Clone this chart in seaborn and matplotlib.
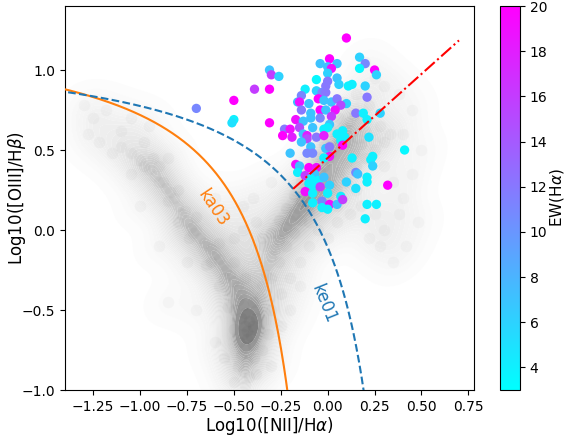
import numpy as np
import matplotlib
matplotlib.use("Agg")
import matplotlib.pyplot as plt
from matplotlib.colors import LinearSegmentedColormap
import seaborn as sns

# coloured sources: log([NII]/Ha), log([OIII]/Hb), EW(Ha)
nii = [0.10, -0.31, -0.30, -0.26, -0.39, -0.31, -0.31, 0.01, -0.04, 0.00,
       0.05, 0.02, 0.17, 0.20, 0.17, 0.25, 0.26, 0.00, -0.06, 0.00,
       0.05, 0.06, 0.11, 0.13, 0.20, -0.01, -0.06, -0.03, -0.01, -0.12,
       -0.14, -0.05, -0.02, 0.02, 0.05, 0.10, 0.07, 0.21, -0.16, -0.15,
       -0.10, -0.14, -0.09, -0.04, -0.01, 0.04, -0.04, 0.02, 0.01, 0.15,
       0.19, 0.21, 0.28, -0.17, -0.13, -0.09, -0.15, -0.08, -0.23, -0.20,
       -0.24, -0.19, -0.13, -0.11, -0.06, -0.02, 0.00, -0.02, -0.11, -0.14,
       0.05, 0.08, 0.09, 0.22, -0.09, -0.11, -0.08, -0.20, -0.01, 0.01,
       0.01, 0.07, 0.08, -0.02, 0.24, 0.23, 0.24, 0.41, 0.13, -0.17,
       -0.15, -0.10, -0.06, -0.07, -0.16, -0.12, -0.09, -0.05, -0.02, 0.15,
       0.16, 0.21, 0.21, 0.10, 0.15, 0.32, -0.10, -0.08, -0.04, 0.01,
       -0.12, -0.08, 0.00, 0.07, -0.08, -0.03, 0.01, 0.05, 0.08, -0.03,
       0.00, 0.21, 0.26, 0.20, -0.70, -0.50, -0.50, -0.51]
oiii = [1.20, 1.00, 0.97, 0.96, 0.88, 0.88, 0.67, 1.07, 1.04, 1.02,
        1.04, 1.01, 1.08, 1.04, 1.01, 1.00, 0.97, 0.98, 0.94, 0.93,
        0.95, 0.91, 0.90, 0.91, 0.90, 0.90, 0.87, 0.86, 0.86, 0.88,
        0.84, 0.82, 0.81, 0.80, 0.82, 0.79, 0.78, 0.83, 0.80, 0.80,
        0.79, 0.75, 0.73, 0.75, 0.75, 0.75, 0.70, 0.71, 0.66, 0.73,
        0.73, 0.69, 0.73, 0.69, 0.68, 0.70, 0.64, 0.64, 0.63, 0.63,
        0.59, 0.58, 0.60, 0.59, 0.58, 0.63, 0.64, 0.59, 0.57, 0.55,
        0.60, 0.62, 0.58, 0.58, 0.52, 0.48, 0.48, 0.48, 0.51, 0.52,
        0.46, 0.56, 0.53, 0.45, 0.46, 0.44, 0.40, 0.50, 0.45, 0.41,
        0.40, 0.39, 0.39, 0.35, 0.36, 0.34, 0.32, 0.31, 0.33, 0.36,
        0.35, 0.33, 0.30, 0.30, 0.26, 0.28, 0.29, 0.28, 0.27, 0.28,
        0.24, 0.23, 0.23, 0.21, 0.17, 0.18, 0.16, 0.16, 0.19, 0.14,
        0.13, 0.16, 0.16, 0.07, 0.76, 0.81, 0.69, 0.67]
ew = [20, 7, 16, 6, 16, 20, 20, 20, 7, 7,
      7, 19, 6, 11, 3.5, 20, 6, 6, 3.5, 12,
      7, 6, 4, 4, 6, 12, 6, 11, 12, 4,
      11, 20, 7, 7, 12, 6, 15, 12, 7, 19,
      7, 12, 7, 20, 7, 19, 11, 16, 7, 12,
      4, 4, 6, 19, 7, 7, 15, 7, 12, 19,
      20, 18, 7, 18, 12, 4, 4, 18, 15, 7,
      4, 4, 4, 5, 7, 11, 11, 7, 7, 12,
      19, 4, 20, 4, 4, 4, 6, 3.5, 4, 19,
      7, 20, 19, 7, 4, 16, 4, 4, 7, 11,
      7, 4, 4, 6, 5, 20, 4, 4, 16, 6,
      19, 4, 4, 4, 4, 11, 19, 7, 16, 4,
      4, 4, 4, 4, 11, 20, 4, 5]

# background galaxy cloud
gray_x = [-1.30, -1.25, -1.18, -1.10, -1.22, -1.05, -0.95, -1.15, -1.28, -0.98,
          -0.90, -1.05, -0.85, -0.80, -1.00, -0.90, -0.70, -0.85, -0.60, -0.75,
          -1.10, -1.05, -1.00, -0.98, -0.95, -0.92, -0.90, -0.88, -0.86, -0.84,
          -0.82, -0.85, -0.80, -0.78, -0.76, -0.75, -0.73, -0.72, -0.70, -0.68,
          -0.66, -0.64, -0.62, -0.60, -0.58, -0.62, -0.56, -0.54, -0.52, -0.55,
          -0.50, -0.48, -0.52, -0.46, -0.48, -0.45, -0.50, -0.44, -0.46, -0.42,
          -0.44, -0.40, -0.43, -0.45, -0.41, -0.43, -0.47, -0.44, -0.40, -0.46,
          -0.43, -0.45, -0.42, -0.44,
          -0.93, -0.80, -0.70, -0.74, -0.58, -0.65, -0.50, -0.58, -0.44, -0.53,
          -0.40, -0.50, -0.38, -0.48, -0.39,
          -0.40, -0.38, -0.36, -0.35, -0.33, -0.32, -0.30, -0.28, -0.26, -0.24,
          -0.22, -0.20, -0.18, -0.16, -0.14, -0.12, -0.10, -0.08, -0.06, -0.04,
          -0.02, 0.00, 0.02, 0.04, 0.06, 0.08, 0.10, 0.12, 0.14,
          -0.30, -0.26, -0.22, -0.18, -0.14, -0.10, -0.06, -0.02, 0.02, 0.06,
          0.10, 0.14, 0.18, 0.20, -0.34, -0.30, -0.26, -0.22, -0.18, -0.14,
          -0.10, -0.06, -0.02, 0.02, 0.06, 0.00, 0.05, 0.10, 0.15, 0.20,
          0.25, 0.12, 0.18, 0.08, 0.15, 0.22, 0.28, 0.30,
          -0.55, -0.45, -0.50, -0.38, -0.40, -0.30, -0.60, -0.35, -0.45,
          0.30, 0.35, 0.40, 0.45, 0.38, 0.30, 0.42, 0.35, 0.48, 0.33,
          0.40, 0.45, 0.38, 0.30, 0.25, 0.20, 0.50, 0.28, 0.22, 0.25,
          0.18, 0.12, 0.05, 0.00, -0.05, -0.10, -0.15, -0.20, -0.25, -0.30,
          -0.10, 0.05, 0.15,
          -0.35, -0.32, -0.38, -0.50, -0.55, -0.30, -0.25, -0.20, -0.15]
gray_y = [0.78, 0.70, 0.75, 0.62, 0.55, 0.70, 0.65, 0.48, 0.60, 0.55,
          0.30, 0.35, 0.45, 0.05, 0.15, -0.10, -0.50, -0.45, -0.70, -0.20,
          0.52, 0.48, 0.44, 0.40, 0.38, 0.34, 0.40, 0.30, 0.26, 0.24,
          0.20, 0.18, 0.15, 0.10, 0.12, 0.05, 0.02, -0.02, 0.00, -0.05,
          -0.08, -0.10, -0.12, -0.15, -0.18, -0.20, -0.22, -0.25, -0.28, -0.30,
          -0.32, -0.35, -0.38, -0.40, -0.44, -0.47, -0.50, -0.52, -0.55, -0.57,
          -0.60, -0.60, -0.63, -0.65, -0.66, -0.68, -0.70, -0.73, -0.72, -0.78,
          -0.82, -0.88, -0.92, -0.97,
          0.45, 0.25, 0.08, -0.05, -0.08, -0.22, -0.20, -0.35, -0.30, -0.48,
          -0.45, -0.62, -0.55, -0.85, -0.80,
          -0.62, -0.50, -0.42, -0.35, -0.28, -0.22, -0.16, -0.12, -0.06, -0.02,
          0.02, 0.06, 0.10, 0.14, 0.18, 0.20, 0.24, 0.28, 0.32, 0.36,
          0.40, 0.44, 0.48, 0.52, 0.56, 0.60, 0.64, 0.68, 0.72,
          -0.30, -0.20, -0.10, -0.02, 0.06, 0.12, 0.18, 0.24, 0.30, 0.36,
          0.42, 0.48, 0.54, 0.62, -0.10, -0.02, 0.06, 0.14, 0.22, 0.30,
          0.38, 0.46, 0.54, 0.62, 0.70, 0.20, 0.25, 0.30, 0.40, 0.45,
          0.50, 0.55, 0.70, 0.80, 0.85, 0.78, 0.65, 0.55,
          0.10, 0.00, -0.05, 0.05, 0.20, 0.30, 0.20, -0.05, 0.15,
          0.40, 0.30, 0.20, 0.35, 0.10, 0.00, -0.10, -0.20, 0.05, 0.60,
          0.60, 0.75, 0.85, 0.90, 0.95, 1.05, 0.50, -0.10, -0.05, 0.10,
          0.15, 0.10, 0.05, -0.05, 0.00, -0.10, -0.20, -0.30, -0.40, -0.50,
          0.05, 0.15, 0.25,
          -0.75, -0.65, -0.90, -0.95, -0.80, -0.85, -0.60, -0.50, -0.35]

# demarcation lines (Kauffmann 2003, Kewley 2001) and AGN/LINER split
ka03_coef = (0.61, 0.05, 1.3)
ke01_coef = (0.61, 0.47, 1.19)
split_x = [-0.184, 0.70]
split_y = [0.257, 1.185]

fig = plt.figure(figsize=(5.65, 4.37), dpi=100)
ax = fig.add_axes([65 / 565, 47 / 437, 409 / 565, 384 / 437])

# soft density underlay plus faint individual dots
cloud_cmap = LinearSegmentedColormap.from_list(
    "cloud", ["#fdfdfd", "#f3f3f3", "#e6e6e6", "#d2d2d2", "#b8b8b8", "#9a9a9a", "#7a7a7a"])
sns.kdeplot(x=gray_x, y=gray_y, fill=True, cmap=cloud_cmap, levels=40, thresh=0.01,
            bw_adjust=0.5, antialiased=True, ax=ax, zorder=0)
ax.scatter(gray_x, gray_y, s=70, color="k", alpha=0.025, linewidths=0, zorder=1)

sns.scatterplot(x=nii, y=oiii, hue=ew, palette="cool", hue_norm=(3, 20),
                s=45, linewidth=0, legend=False, ax=ax, zorder=2)

xk = np.linspace(-1.5, 0.0, 400)
ax.plot(xk, ka03_coef[0] / (xk - ka03_coef[1]) + ka03_coef[2], color="C1", lw=1.5, zorder=3)
xe = np.linspace(-1.5, 0.4, 400)
ax.plot(xe, ke01_coef[0] / (xe - ke01_coef[1]) + ke01_coef[2], color="C0", ls="--", lw=1.5, zorder=3)
ax.plot(split_x, split_y, color="r", ls="-.", lw=1.5, zorder=3)

ax.text(-0.61, 0.14, "ka03", color="C1", rotation=-56, fontsize=12, ha="center", va="center")
ax.text(-0.02, -0.46, "ke01", color="C0", rotation=-68, fontsize=12, ha="center", va="center")

ax.set_xlim(-1.4, 0.78)
ax.set_ylim(-1.0, 1.4)
ax.set_xlabel(r"Log10([NII]/H$\alpha$)", fontsize=12, labelpad=1)
ax.set_ylabel(r"Log10([OIII]/H$\beta$)", fontsize=12)
ax.yaxis.set_label_coords(-0.09, 0.5)

cax = fig.add_axes([500 / 565, 47 / 437, 20 / 565, 384 / 437])
sm = plt.cm.ScalarMappable(cmap="cool", norm=plt.Normalize(3, 20))
cb = fig.colorbar(sm, cax=cax)
cb.set_label(r"EW(H$\alpha$)", fontsize=11)
cb.ax.yaxis.set_label_coords(2.4, 0.5)

fig.savefig("out.png", dpi=100)
